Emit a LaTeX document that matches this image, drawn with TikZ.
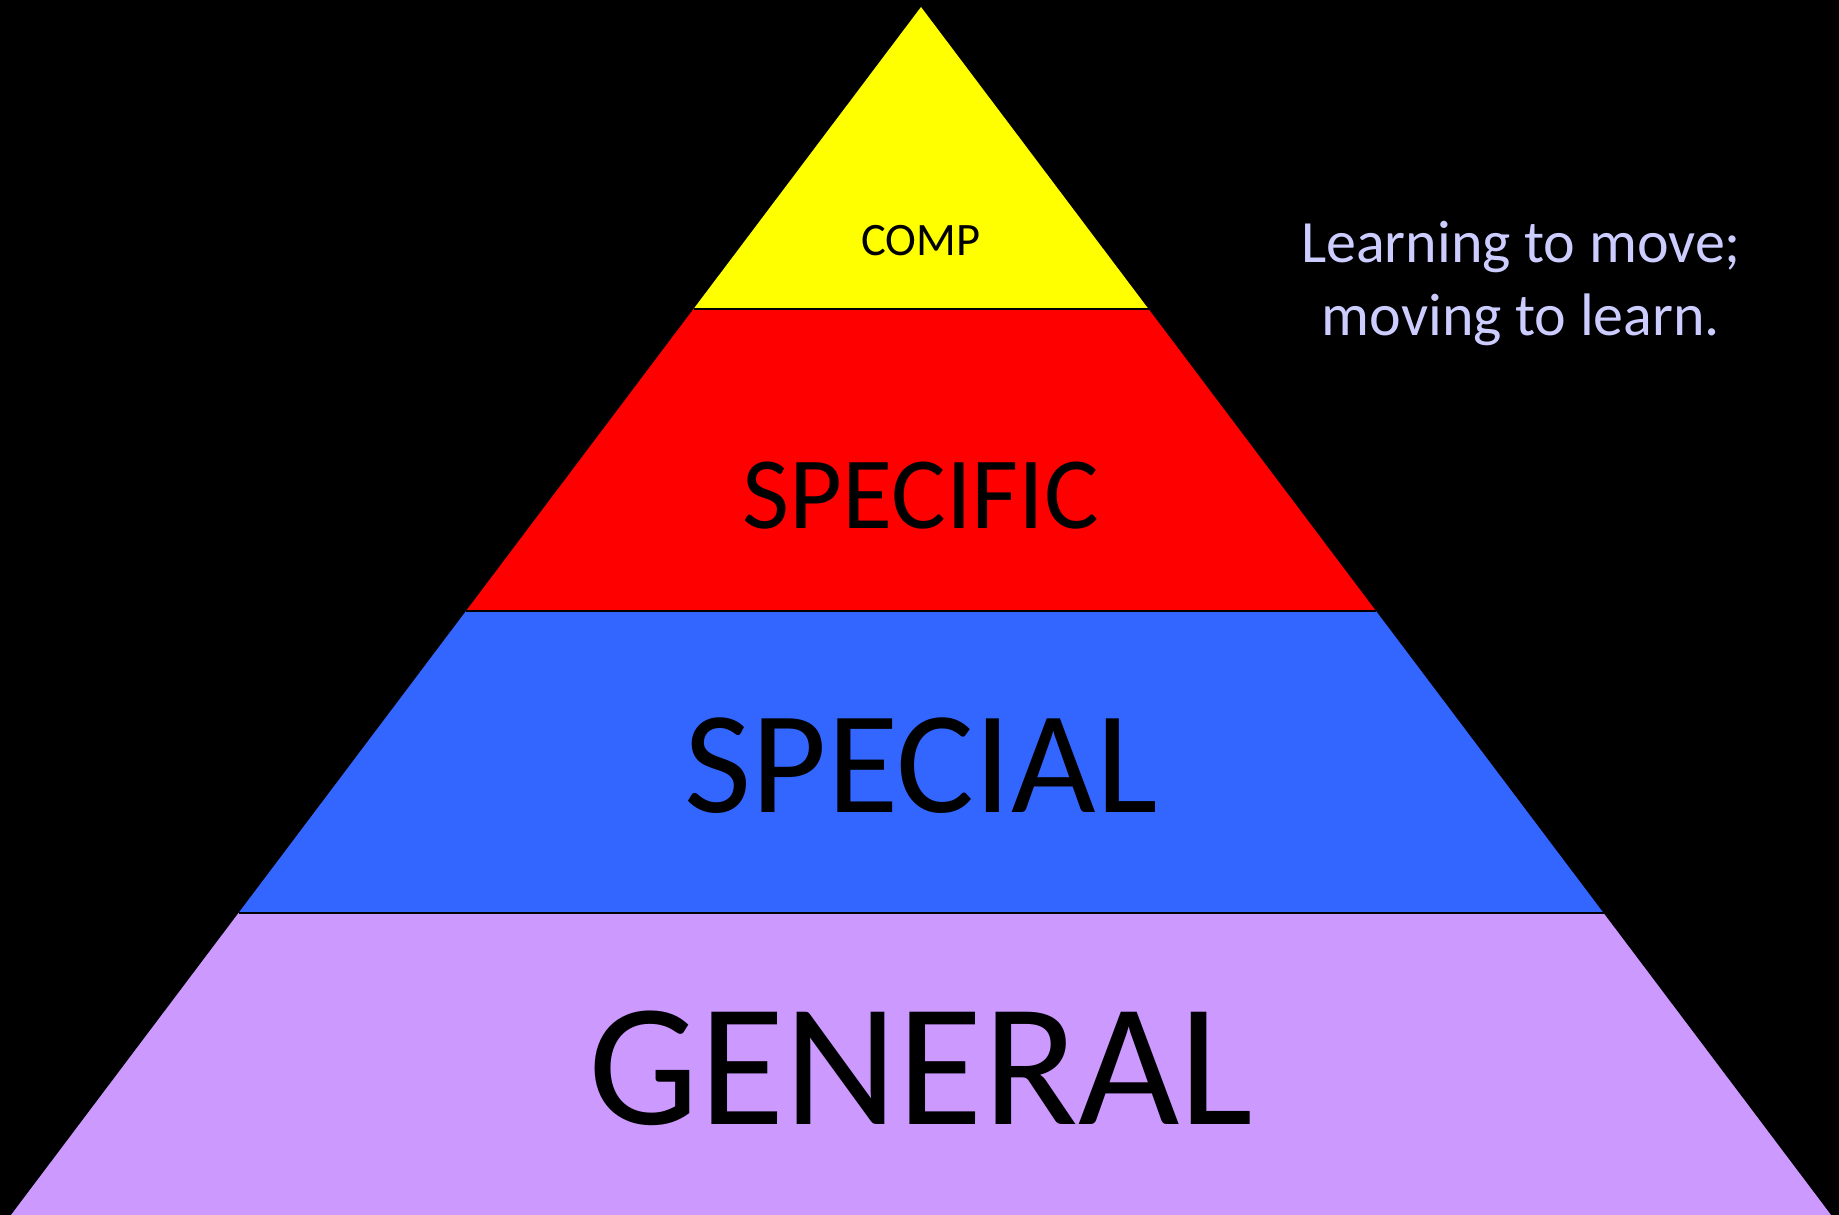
\documentclass[tikz,border=0pt]{standalone}
\usepackage{fontspec}
\setmainfont{Carlito}
\usetikzlibrary{calc}
\definecolor{tierTop}{HTML}{FFFF00}
\definecolor{tierTwo}{HTML}{FF0000}
\definecolor{tierThree}{HTML}{3366FF}
\definecolor{tierBase}{HTML}{CC99FF}
\definecolor{mottoText}{HTML}{CCCCFF}
\begin{document}
\begin{tikzpicture}[x=1pt,y=-1pt,
  tierlabel/.style={text=black,inner sep=0pt,anchor=base},
  motto/.style={text=mottoText,inner sep=0pt,anchor=base,font=\fontsize{60}{72}\selectfont},
  divider/.style={draw=black,line width=1.2pt}]
  % background
  \fill[black] (0,0) rectangle (1839,1215);
  \useasboundingbox (0,0) rectangle (1839,1215);
  % pyramid corners
  \coordinate (apex) at (921,7);
  \coordinate (bl) at (11,1215);
  \coordinate (br) at (1831,1215);
  \coordinate (l1) at ($(apex)!0.25!(bl)$);
  \coordinate (r1) at ($(apex)!0.25!(br)$);
  \coordinate (l2) at ($(apex)!0.5!(bl)$);
  \coordinate (r2) at ($(apex)!0.5!(br)$);
  \coordinate (l3) at ($(apex)!0.75!(bl)$);
  \coordinate (r3) at ($(apex)!0.75!(br)$);
  % tiers
  \fill[tierTop] (apex) -- (r1) -- (l1) -- cycle;
  \fill[tierTwo] (l1) -- (r1) -- (r2) -- (l2) -- cycle;
  \fill[tierThree] (l2) -- (r2) -- (r3) -- (l3) -- cycle;
  \fill[tierBase] (l3) -- (r3) -- (br) -- (bl) -- cycle;
  \draw[divider] (l1) -- (r1);
  \draw[divider] (l2) -- (r2);
  \draw[divider] (l3) -- (r3);
  % labels
  \node[tierlabel,font=\fontsize{46.5}{56}\selectfont] (comp) at (921,255) {COMP};
  \node[tierlabel,font=\fontsize{102.5}{120}\selectfont] (specific) at (921,528) {SPECIFIC};
  \node[tierlabel,font=\fontsize{146}{170}\selectfont] (special) at (921,812) {SPECIAL};
  \node[tierlabel,font=\fontsize{175}{200}\selectfont] (general) at (921,1124) {GENERAL};
  % motto
  \node[motto] (mottoA) at (1521,262) {Learning to move;};
  \node[motto] (mottoB) at (1521,335) {moving to learn.};
\end{tikzpicture}
\end{document}
